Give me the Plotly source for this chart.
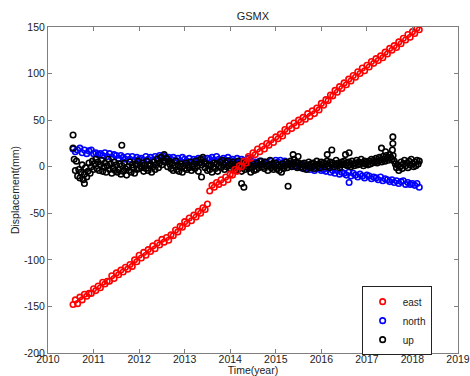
import numpy as np
import plotly.graph_objects as go

# Sampling grids (decimal years)
T_START = 2010.55
STEP_EN = 0.05      # east / north sampling
STEP_UP = 0.025     # up sampling

east = [
    -148, -143, -147, -140, -143, -137, -139, -136, -136, -131,
    -133, -128, -130, -124, -126, -123, -123, -117, -120, -114,
    -116, -111, -113, -108, -110, -105, -107, -100, -102, -95,
    -98, -92, -95, -89, -91, -85, -88, -82, -84, -78,
    -81, -76, -79, -73, -74, -68, -70, -64, -65, -59,
    -61, -55, -58, -52, -54, -48, -50, -44, -46, -40,
    -26, -20, -22, -17, -19, -14, -17, -11, -14, -8,
    -9, -3, -5, 1, 0, 6, 4, 11, 9, 15,
    13, 19, 16, 22, 19, 25, 23, 29, 26, 32,
    30, 35, 33, 40, 38, 44, 41, 47, 44, 50,
    48, 53, 51, 57, 54, 60, 57, 63, 61, 68,
    66, 72, 71, 77, 76, 82, 80, 86, 84, 90,
    88, 94, 92, 98, 96, 102, 100, 106, 103, 109,
    107, 113, 111, 116, 114, 119, 117, 123, 121, 127,
    125, 130, 128, 134, 132, 138, 136, 142, 139, 145,
    143, 149, 147,
]

north = [
    19, 16, 18, 20, 15, 18, 14, 17, 18, 14,
    15, 13, 14, 12, 15, 11, 14, 10, 13, 12,
    9, 12, 10, 8, 11, 8, 11, 7, 10, 8,
    9, 7, 11, 8, 10, 7, 11, 9, 12, 10,
    11, 9, 10, 8, 10, 7, 9, 6, 10, 8,
    6, 9, 5, 8, 7, 9, 5, 8, 6, 9,
    8, 10, 7, 11, 8, 6, 9, 7, 10, 7,
    8, 6, 9, 5, 8, 7, 5, 9, 7, 4,
    5, 3, 6, 2, 5, 4, 2, 6, 4, 7,
    5, 7, 4, 6, 2, 3, 1, 4, 0, 2,
    -1, 2, -2, 0, -3, 0, -4, -1, -2, -4,
    -3, -5, -2, -6, -4, -7, -4, -8, -6, -7,
    -9, -6, -10, -7, -9, -11, -8, -10, -12, -9,
    -10, -13, -11, -12, -14, -11, -15, -13, -14, -16,
    -14, -17, -15, -18, -16, -15, -19, -17, -19, -18,
    -20, -18, -22,
]

up = [
    20, 8, -4, 6, -10, -3, -12, -6, 2, -14, -8, -1, -11, -5, 4, -7, 0, 6, -3, 3,
    8, -2, 5, -4, 2, 7, -5, 0, 4, -6, 1, 8, -3, 3, -7, -1, 5, -4, 2, -6,
    -3, 3, -8, 1, -5, 4, -2, -9, 0, -4, 5, -6, 2, -1, -7, 3, -3, 6, -2, 1,
    -1, 4, -5, 2, -2, 6, -4, 1, 3, -6, 0, 5, -3, 2, 8, -1, 4, 10, 2, 6,
    13, 5, 9, 0, 6, 3, -2, 4, -4, 1, 6, -3, 2, -5, 0, 3, -6, 1, -2, 4,
    -3, 2, -1, 5, -4, 0, 3, -2, 6, 1, -5, 4, 8, 2, 10, 5, -1, 3, -4, 1,
    -3, 2, -6, 0, 4, -2, 3, -5, 1, 5, -1, 7, 2, -3, 4, 0, 6, 1, -2, 3,
    5, -1, 2, -4, 0, 6, -2, 3, -5, 1, 4, -3, 0, 5, -2, 2, -6, -1, 3, -4,
    1, -3, 4, -1, 2, 6, 0, 3, -2, 5, 1, -4, 2, 7, -1, 3, -3, 0, 4, -2,
    2, -4, 0, -6, 3, -2, 1, 5, -1, 4, 2, 6, 0, 3, 8, 1, 5, -1, 4, 2,
    0, 3, -2, 4, 1, -3, 2, 5, -1, 3, 0, 4, -2, 2, 6, 1, 3, -1, 5, 2,
    4, 0, 3, 6, 1, -1, 5, 2, 4, 0, 3, 7, 1, 4, -1, 2, 5, 3, 6, 2,
    4, 1, 5, 2, 0, 6, 3, 1, 4, 7, 2, 5, 3, 8, 4, 1, 6, 3, 5, 2,
    6, 3, 8, 4, 7, 5, 9, 4, 6, 10, 7, 5, 11, 8, 6, 12, 9, 7, 13, 10,
    8, 12, 6, 3, -1, 2, -4, 0, 5, -2, 3, 7, 1, 4, -1, 6, 2, 8, 3, 0,
    5, 1, 7, 3, 6,
]

# isolated outliers
up_out_t = [2010.55, 2011.62, 2010.80, 2013.37, 2014.25, 2014.30, 2015.27, 2015.38,
            2015.49, 2016.13, 2016.23, 2016.53, 2016.61, 2017.32, 2017.41, 2017.57,
            2017.57, 2017.56]
up_out_v = [34, 23, -18, -11, -18, -22, -21, 13, 11, 13, 18, 13, 15, 20, 16, 32, 25, 18]
north_out_t = [2016.61]
north_out_v = [-17]

x_ticks = [2010, 2011, 2012, 2013, 2014, 2015, 2016, 2017, 2018, 2019]
y_ticks = [-200, -150, -100, -50, 0, 50, 100, 150]

t_en = np.round(T_START + STEP_EN * np.arange(len(east)), 3)
t_up = np.round(T_START + STEP_UP * np.arange(len(up)), 3)

FONT = "Liberation Sans, Arial, sans-serif"
mk = dict(symbol="circle-open", size=5.5, line=dict(width=1.6))

fig = go.Figure()
fig.add_trace(go.Scatter(
    x=list(t_en) + north_out_t, y=north + north_out_v, mode="markers", name="north",
    legendrank=2, marker=dict(color="rgb(0,0,255)", **mk)))
fig.add_trace(go.Scatter(
    x=list(t_up) + up_out_t, y=up + up_out_v, mode="markers", name="up",
    legendrank=3, marker=dict(color="rgb(0,0,0)", **mk)))
fig.add_trace(go.Scatter(
    x=t_en, y=east, mode="markers", name="east",
    legendrank=1, marker=dict(color="rgb(255,0,0)", **mk)))

axis_common = dict(
    showgrid=False, zeroline=False, showline=True, linecolor="#7f7f7f", linewidth=1,
    mirror="ticks", ticks="inside", ticklen=4, tickcolor="#7f7f7f", automargin=False,
    tickfont=dict(family=FONT, size=10.5, color="#222"),
)

fig.update_layout(
    width=470, height=376,
    margin=dict(l=48, r=12, t=27, b=23),
    paper_bgcolor="white", plot_bgcolor="white",
    font=dict(family=FONT, size=10.5, color="#222"),
    title=dict(text="GSMX", x=0.538, xanchor="center", y=0.957, yanchor="middle",
               font=dict(family=FONT, size=11, color="#222")),
    xaxis=dict(range=[2010, 2019], tickvals=x_ticks, ticktext=[str(v) for v in x_ticks],
               ticklabelstandoff=-4,
               title=dict(text="Time(year)", standoff=3,
                          font=dict(family=FONT, size=10.5, color="#222")),
               **axis_common),
    yaxis=dict(range=[-200, 150], tickvals=y_ticks, ticktext=[str(v) for v in y_ticks],
               title=dict(text="Displacement(mm)", standoff=2,
                          font=dict(family=FONT, size=10.5, color="#222")),
               **axis_common),
    showlegend=True,
    legend=dict(x=0.765, y=0.205, xanchor="left", yanchor="top",
                bgcolor="white", bordercolor="#222", borderwidth=1,
                font=dict(family=FONT, size=10, color="#222"),
                itemwidth=30, tracegroupgap=0),
)

fig.write_html("out.html")
